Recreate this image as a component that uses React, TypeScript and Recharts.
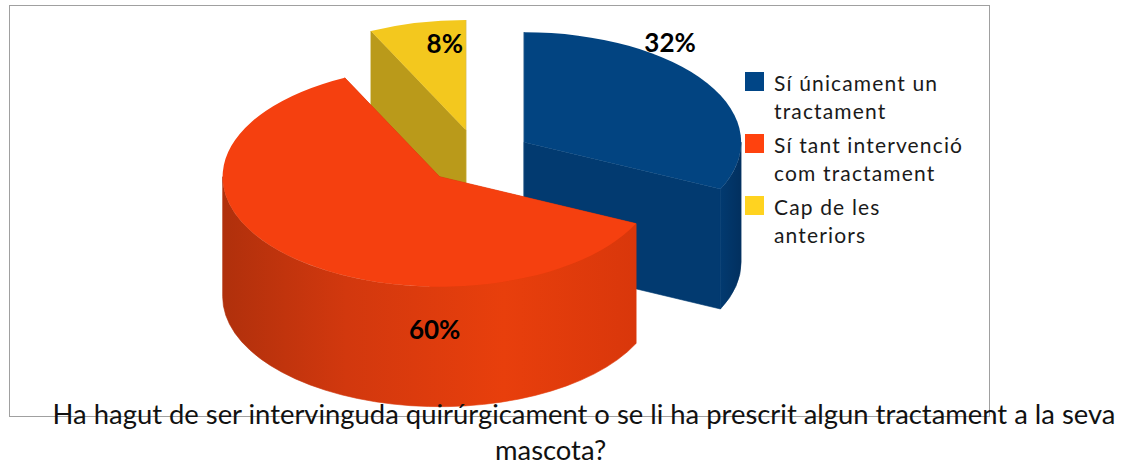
import { Legend, Pie, PieChart } from 'recharts';

const categories = ['Sí únicament un\ntractament', 'Sí tant intervenció\ncom tractament', 'Cap de les\nanteriors'];
// the printed labels are rounded
const values = [32, 60.8, 7.2];
const percentLabels = ['32%', '60%', '8%'];
const legendColors = ['#004586', '#FF420E', '#FFD320'];
const topColors = ['#024481', '#F5400F', '#F3C81E'];
const sideColors = ['#023A70', '#D9370B', '#BA9A1A'];
const wallFills = ['url(#blueWall)', 'url(#orangeWall)', '#BA9A1A'];

const titleLines = ['Ha hagut de ser intervinguda quirúrgicament o se li ha prescrit algun tractament a la seva', 'mascota?'];

// back to front, so the nearer slices cover the others
const drawOrder = [2, 0, 1];

const pieData = drawOrder.map((i) => ({
    name: categories[i],
    value: values[i],
    label: percentLabels[i],
    top: topColors[i],
    side: sideColors[i],
    wall: wallFills[i],
}));

const SQUASH = 110 / 217;
const DEPTH = 120;
const EXPLODE = 54.6;
const FIRST_ANGLE = 90 + (values[2] * 360) / 100;

// label position from the slice's apex
const labelOffsets: Record<string, [number, number]> = {
    '32%': [146, -100],
    '60%': [-5, 152],
    '8%': [-21, -87],
};

const titleStyle = {
    position: 'absolute',
    height: 24,
    whiteSpace: 'nowrap',
    fontFamily: 'Lato',
    fontSize: 27.4,
    lineHeight: '24px',
    color: '#111',
} as const;

const rad = (deg: number) => (deg * Math.PI) / 180;

function apexOf(cx: number, cy: number, midAngle: number) {
    return {
        x: cx + EXPLODE * Math.cos(rad(midAngle)),
        y: cy - EXPLODE * SQUASH * Math.sin(rad(midAngle)),
    };
}

function Slice3D(props: any) {
    const { cx, cy, outerRadius, startAngle, endAngle, payload } = props;
    const hi = Math.max(startAngle, endAngle);
    const lo = Math.min(startAngle, endAngle);
    const apex = apexOf(cx, cy, (hi + lo) / 2);
    const rx = outerRadius;
    const ry = outerRadius * SQUASH;
    const at = (deg: number, drop = 0) => {
        const x = apex.x + rx * Math.cos(rad(deg));
        const y = apex.y - ry * Math.sin(rad(deg)) + drop;
        return `${x.toFixed(2)} ${y.toFixed(2)}`;
    };
    const large = hi - lo > 180 ? 1 : 0;

    const topPath = `M${apex.x} ${apex.y} L${at(hi)} A${rx} ${ry} 0 ${large} 1 ${at(lo)} Z`;
    const cut = (deg: number) =>
        `M${apex.x} ${apex.y} L${at(deg)} L${at(deg, DEPTH)} L${apex.x} ${apex.y + DEPTH} Z`;

    // only the part of the rim in front of the centre shows
    const wallHi = Math.min(hi, 0);
    const wallLo = Math.max(lo, -180);
    const wallPath =
        wallHi > wallLo
            ? `M${at(wallHi)} A${rx} ${ry} 0 0 1 ${at(wallLo)} L${at(wallLo, DEPTH)} A${rx} ${ry} 0 0 0 ${at(wallHi, DEPTH)} Z`
            : null;

    return (
        <g>
            <path d={cut(hi)} fill={payload.side} stroke={payload.side} strokeWidth={0.6} />
            <path d={cut(lo)} fill={payload.side} stroke={payload.side} strokeWidth={0.6} />
            {wallPath && <path d={wallPath} fill={payload.wall} stroke={payload.wall} strokeWidth={0.6} />}
            <path d={topPath} fill={payload.top} />
        </g>
    );
}

function SliceLabel(props: any) {
    const { cx, cy, midAngle, payload } = props;
    const apex = apexOf(cx, cy, midAngle);
    const text = payload.label;
    const [dx, dy] = labelOffsets[text];
    return (
        <text
            x={apex.x + dx}
            y={apex.y + dy}
            textAnchor="middle"
            dominantBaseline="central"
            fontFamily="Lato"
            fontWeight={700}
            fontSize={26}
            fill="#000000"
        >
            {text}
        </text>
    );
}

function ChartLegend() {
    return (
        <div>
            {categories.map((name, i) => (
                <div key={name} style={{ position: 'relative', height: 62, paddingLeft: 29 }}>
                    <span
                        style={{
                            position: 'absolute',
                            left: 0,
                            top: 3,
                            width: 19,
                            height: 19,
                            background: legendColors[i],
                        }}
                    />
                    <div
                        style={{
                            whiteSpace: 'pre-line',
                            fontFamily: 'Lato',
                            fontSize: 21,
                            lineHeight: '28px',
                            letterSpacing: 1.15,
                            color: '#1a1a1a',
                        }}
                    >
                        {name}
                    </div>
                </div>
            ))}
        </div>
    );
}

export default function App() {
    return (
        <div style={{ position: 'absolute', left: 0, top: 0, width: 1126, height: 465, background: '#fff', overflow: 'hidden' }}>
            <div
                style={{
                    position: 'absolute',
                    left: 9,
                    top: 5,
                    width: 979,
                    height: 410,
                    border: '1.5px solid #a0a0a0',
                }}
            />
            <div style={{ position: 'absolute', left: 0, top: 0 }}>
                <PieChart width={1126} height={465} margin={{ top: 0, right: 0, bottom: 0, left: 0 }}>
                    <defs>
                        <linearGradient id="orangeWall" x1="0" y1="0" x2="1" y2="0">
                            <stop offset="0%" stopColor="#B0300C" />
                            <stop offset="30%" stopColor="#D2380E" />
                            <stop offset="68%" stopColor="#E83F0C" />
                            <stop offset="100%" stopColor="#D9370B" />
                        </linearGradient>
                        <linearGradient id="blueWall" x1="0" y1="0" x2="1" y2="0">
                            <stop offset="0%" stopColor="#023A70" />
                            <stop offset="100%" stopColor="#02305F" />
                        </linearGradient>
                    </defs>
                    <Pie
                        data={pieData}
                        dataKey="value"
                        nameKey="name"
                        cx={478}
                        cy={157}
                        outerRadius={217}
                        startAngle={FIRST_ANGLE}
                        endAngle={FIRST_ANGLE - 360}
                        stroke="none"
                        shape={Slice3D}
                        label={SliceLabel}
                        labelLine={false}
                        isAnimationActive={false}
                    />
                    <Legend
                        content={<ChartLegend />}
                        wrapperStyle={{ position: 'absolute', left: 745, top: 69, width: 240, bottom: 'auto' }}
                    />
                </PieChart>
            </div>
            <div style={{ ...titleStyle, left: 30, top: 402, width: 1108, textAlign: 'center' }}>{titleLines[0]}</div>
            <div style={{ ...titleStyle, left: 495, top: 438 }}>{titleLines[1]}</div>
        </div>
    );
}
